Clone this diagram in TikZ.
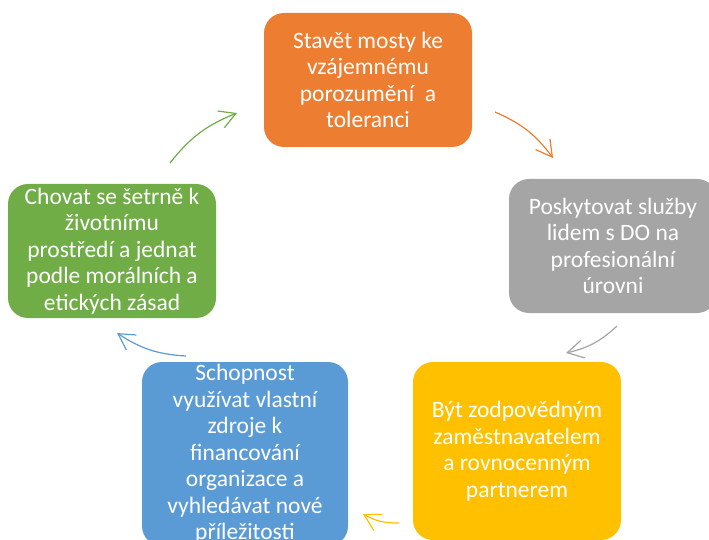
\documentclass[tikz,border=0pt]{standalone}
\usepackage{fontspec}
\setmainfont{Carlito}
\usetikzlibrary{arrows.meta}

\definecolor{cycOrange}{HTML}{ED7D31}
\definecolor{cycGray}{HTML}{A5A5A5}
\definecolor{cycYellow}{HTML}{FFC000}
\definecolor{cycBlue}{HTML}{5B9BD5}
\definecolor{cycGreen}{HTML}{70AD47}

\begin{document}
\begin{tikzpicture}[x=1pt, y=-1pt,
  box/.style={rounded corners=20pt, inner sep=0pt, minimum width=208pt,
    minimum height=134pt, align=center, text=white,
    font=\fontsize{23.5}{26.5}\selectfont},
  cyc/.style={-{Straight Barb[length=16pt, width=18pt]}, line width=1.2pt, bend left=15}]
  \useasboundingbox (0,0) rectangle (709,540);
  \clip (0,0) rectangle (709,540);

  % Boxes of the cycle
  \node[box, fill=cycOrange] (mosty) at (368,80)
    {Stavět mosty ke\\vzájemnému\\porozumění~ a\\toleranci};
  \node[box, fill=cycGray] (sluzby) at (613,246)
    {Poskytovat služby\\lidem s DO na\\profesionální\\úrovni};
  \node[box, fill=cycYellow, minimum height=178pt] (zamestnavatel) at (517,451)
    {Být zodpovědným\\zaměstnavatelem\\a rovnocenným\\partnerem};
  \node[box, fill=cycBlue, minimum width=206pt, minimum height=184pt] (zdroje) at (245,454)
    {Schopnost\\využívat vlastní\\zdroje k\\financování\\organizace a\\vyhledávat nové\\příležitosti};
  \node[box, fill=cycGreen] (prostredi) at (112,251)
    {Chovat se šetrně k\\životnímu\\prostředí a jednat\\podle morálních a\\etických zásad};

  % Arrow ends
  \coordinate (mostyA) at (495,112);  \coordinate (mostyB) at (553,158);
  \coordinate (sluzbyA) at (617,326); \coordinate (sluzbyB) at (566,353);
  \coordinate (zamA) at (399,523);    \coordinate (zamB) at (363,514);
  \coordinate (zdrojeA) at (186,356); \coordinate (zdrojeB) at (117,333);
  \coordinate (prosA) at (170,163);   \coordinate (prosB) at (237,113);

  % Arrows
  \draw[cyc, cycOrange] (mostyA) to (mostyB);
  \draw[cyc, cycGray] (sluzbyA) to (sluzbyB);
  \draw[cyc, cycYellow] (zamA) to (zamB);
  \draw[cyc, cycBlue] (zdrojeA) to (zdrojeB);
  \draw[cyc, cycGreen] (prosA) to (prosB);
\end{tikzpicture}
\end{document}
